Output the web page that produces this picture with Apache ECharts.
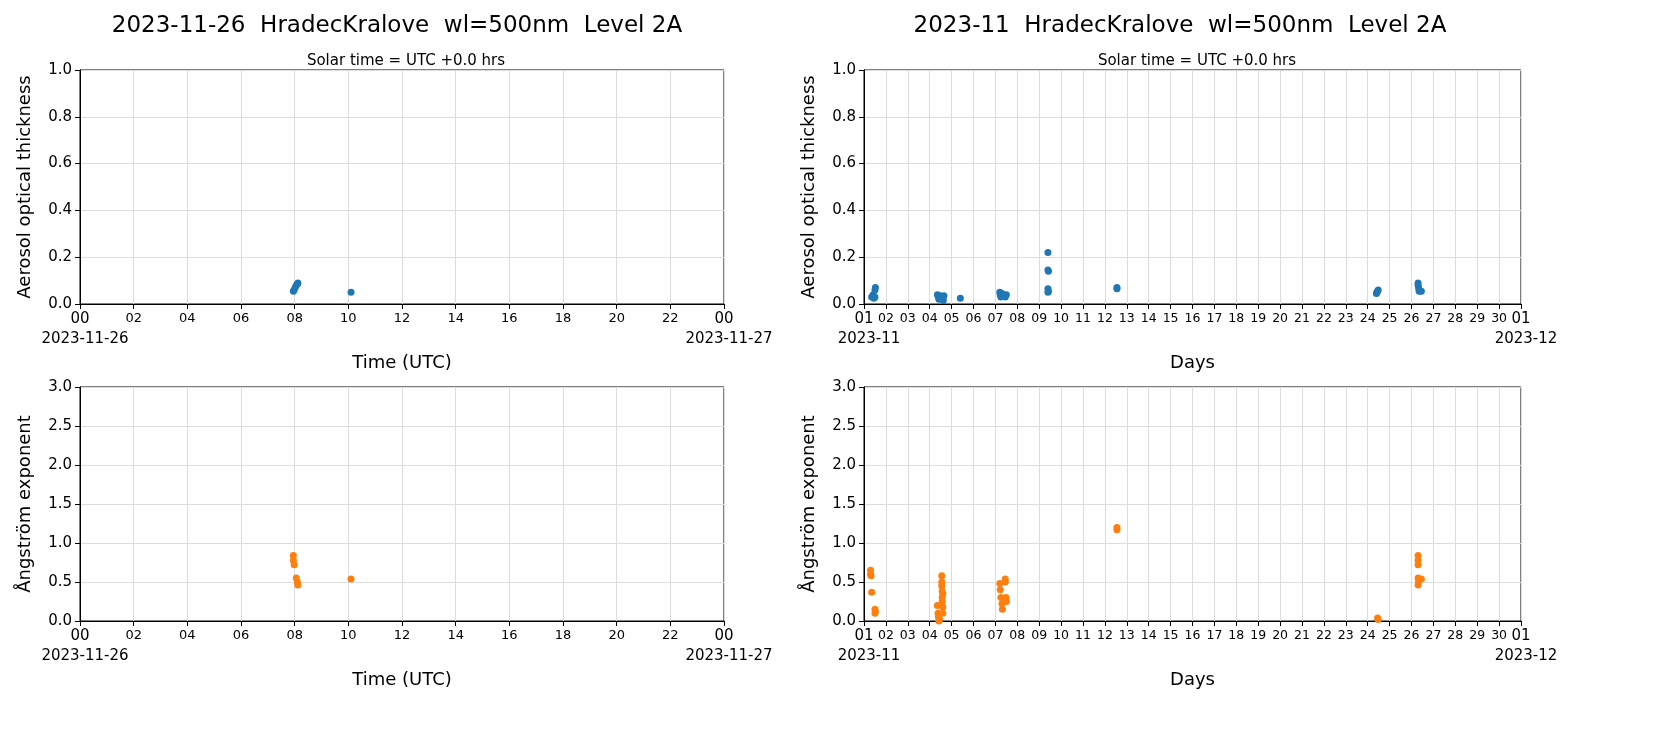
<!DOCTYPE html>
<html><head><meta charset="utf-8">
<script src="https://cdn.jsdelivr.net/npm/echarts@6/dist/echarts.min.js"></script>
<style>body{margin:0;background:#fff}#main{width:1654px;height:737px}</style>
</head><body><div id="main"></div>
<script>
var myChart = echarts.init(document.getElementById('main'));

// daily plot (hours of 2023-11-26)
const dayAotX = [7.95, 7.98, 8.02, 8.06, 8.1, 8.12, 10.1];
const dayAotY = [0.055, 0.06, 0.07, 0.08, 0.085, 0.09, 0.05];
const dayAngX = [7.95, 7.95, 7.98, 8.06, 8.1, 8.12, 10.1];
const dayAngY = [0.84, 0.78, 0.72, 0.55, 0.5, 0.46, 0.54];

// monthly plot (fractional day of month)
const monAotX = [1.35, 1.4, 1.42, 1.45, 1.5, 1.52, 1.5, 4.35, 4.4, 4.42, 4.45, 4.48, 4.55, 4.6, 4.62, 4.65, 5.4,
  7.2, 7.22, 7.25, 7.3, 7.4, 7.45, 7.5, 9.4, 9.4, 9.42, 9.4, 9.42, 9.4, 12.55, 12.55,
  24.4, 24.42, 24.45, 24.48, 26.3, 26.3, 26.32, 26.35, 26.35, 26.45];
const monAotY = [0.03, 0.035, 0.04, 0.025, 0.06, 0.07, 0.03, 0.04, 0.03, 0.02, 0.025, 0.035, 0.03, 0.02, 0.015, 0.035, 0.025,
  0.05, 0.04, 0.03, 0.045, 0.035, 0.03, 0.04, 0.22, 0.145, 0.14, 0.065, 0.055, 0.05, 0.07, 0.065,
  0.045, 0.05, 0.055, 0.06, 0.09, 0.08, 0.07, 0.06, 0.055, 0.055];
const monAngX = [1.3, 1.3, 1.32, 1.35, 1.5, 1.5, 1.52,
  4.35, 4.38, 4.4, 4.42, 4.45, 4.55, 4.55, 4.55, 4.57, 4.57, 4.57, 4.6, 4.6, 4.6,
  7.2, 7.22, 7.25, 7.3, 7.32, 7.45, 7.45, 7.48, 7.5, 12.55, 12.55, 24.45, 24.48,
  26.3, 26.3, 26.3, 26.3, 26.32, 26.3, 26.45];
const monAngY = [0.65, 0.6, 0.58, 0.37, 0.15, 0.1, 0.12,
  0.2, 0.1, 0.05, 0.0, 0.02, 0.58, 0.5, 0.45, 0.38, 0.3, 0.25, 0.18, 0.1, 0.35,
  0.48, 0.4, 0.3, 0.22, 0.15, 0.54, 0.5, 0.3, 0.25, 1.2, 1.17, 0.04, 0.02,
  0.84, 0.78, 0.72, 0.55, 0.5, 0.46, 0.54];

const pad = v => (v < 10 ? '0' : '') + v;
const zip = (a, b) => a.map((x, i) => [x, b[i]]);
const blue = '#1f77b4', orange = '#ff7f0e';
const lineCol = '#000', gridCol = '#dcdcdc';

function xAxis(i, min, max, interval, name, size, edge) {
  return {
    type: 'value', gridIndex: i, min: min, max: max, interval: interval,
    name: name, nameLocation: 'middle', nameGap: 50,
    nameTextStyle: { fontSize: 18, color: '#000' },
    axisLine: { lineStyle: { color: lineCol } }, axisTick: { lineStyle: { color: lineCol } },
    splitLine: { lineStyle: { color: gridCol } },
    axisLabel: {
      color: '#000', fontSize: size, hideOverlap: false, showMinLabel: true, showMaxLabel: true,
      formatter: v => (v == min || v == max) ? '{b|' + edge + '}' : pad(v),
      rich: { b: { fontSize: 15 } }
    }
  };
}
function yAxis(i, max, interval, name) {
  return {
    type: 'value', gridIndex: i, min: 0, max: max, interval: interval,
    name: name, nameLocation: 'middle', nameGap: 46,
    nameTextStyle: { fontSize: 18, color: '#000' },
    axisLine: { show: true, lineStyle: { color: lineCol } },
    axisTick: { show: true, lineStyle: { color: lineCol } },
    splitLine: { lineStyle: { color: gridCol } },
    axisLabel: { color: '#000', fontSize: 15, formatter: v => v.toFixed(1) }
  };
}
const box = { show: true, borderColor: '#000', borderWidth: 1 };
const tt = (text, left, top, size) => ({ text: text, left: left, top: top, textAlign: 'center', textStyle: { fontSize: size, fontWeight: 'normal', color: '#000' } });

const option = {
  animation: false,
  textStyle: { fontFamily: 'DejaVu Sans' },
  title: [
    tt('2023-11-26  HradecKralove  wl=500nm  Level 2A', 392, 10, 23),
    tt('2023-11  HradecKralove  wl=500nm  Level 2A', 1175, 10, 23),
    tt('Solar time = UTC +0.0 hrs', 401, 49, 15),
    tt('Solar time = UTC +0.0 hrs', 1192, 49, 15),
    tt('2023-11-26', 80, 327, 15), tt('2023-11-27', 724, 327, 15),
    tt('2023-11', 864, 327, 15), tt('2023-12', 1521, 327, 15),
    tt('2023-11-26', 80, 644, 15), tt('2023-11-27', 724, 644, 15),
    tt('2023-11', 864, 644, 15), tt('2023-12', 1521, 644, 15)
  ],
  grid: [
    Object.assign({ left: 80, width: 644, top: 70, height: 234 }, box),
    Object.assign({ left: 864, width: 657, top: 70, height: 234 }, box),
    Object.assign({ left: 80, width: 644, top: 387, height: 234 }, box),
    Object.assign({ left: 864, width: 657, top: 387, height: 234 }, box)
  ],
  xAxis: [
    xAxis(0, 0, 24, 2, 'Time (UTC)', 13, '00'), xAxis(1, 1, 31, 1, 'Days', 12.5, '01'),
    xAxis(2, 0, 24, 2, 'Time (UTC)', 13, '00'), xAxis(3, 1, 31, 1, 'Days', 12.5, '01')
  ],
  yAxis: [
    yAxis(0, 1, 0.2, 'Aerosol optical thickness'),
    yAxis(1, 1, 0.2, 'Aerosol optical thickness'),
    yAxis(2, 3, 0.5, 'Ångström exponent'),
    yAxis(3, 3, 0.5, 'Ångström exponent')
  ],
  series: [
    { type: 'scatter', xAxisIndex: 0, yAxisIndex: 0, data: zip(dayAotX, dayAotY), symbolSize: 7, itemStyle: { color: blue, opacity: 1 } },
    { type: 'scatter', xAxisIndex: 1, yAxisIndex: 1, data: zip(monAotX, monAotY), symbolSize: 7, itemStyle: { color: blue, opacity: 1 } },
    { type: 'scatter', xAxisIndex: 2, yAxisIndex: 2, data: zip(dayAngX, dayAngY), symbolSize: 7, itemStyle: { color: orange, opacity: 1 } },
    { type: 'scatter', xAxisIndex: 3, yAxisIndex: 3, data: zip(monAngX, monAngY), symbolSize: 7, itemStyle: { color: orange, opacity: 1 } }
  ]
};
myChart.setOption(option);
</script></body></html>
